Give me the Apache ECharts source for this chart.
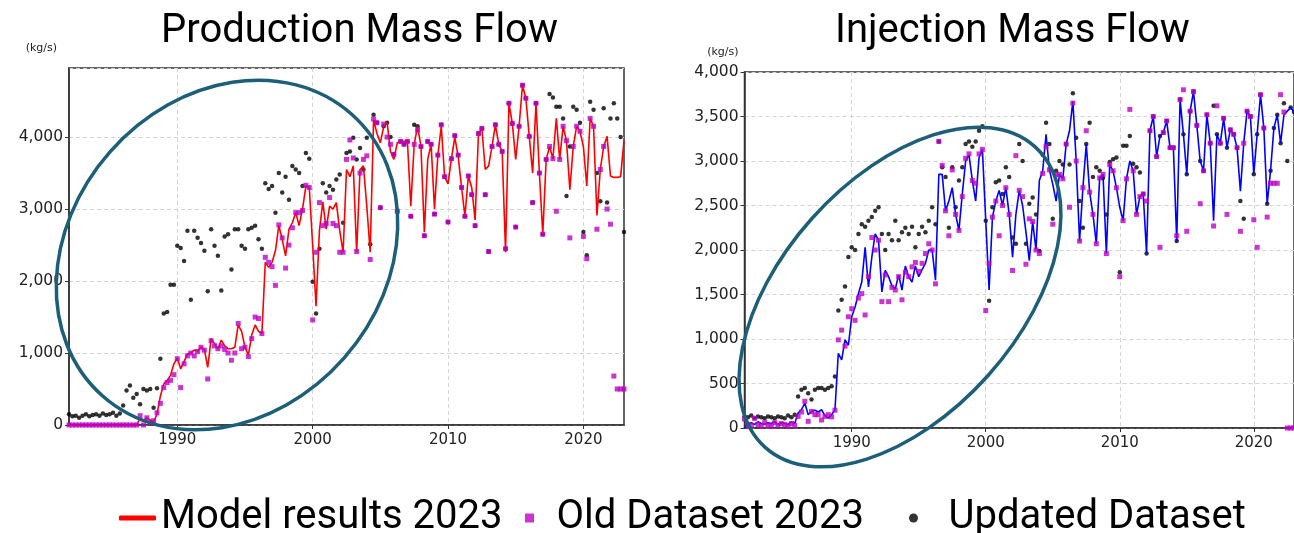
<!DOCTYPE html>
<html>
<head>
<meta charset="utf-8">
<script src="https://cdn.jsdelivr.net/npm/echarts@6/dist/echarts.min.js"></script>
<style>
  html, body { margin: 0; padding: 0; background: #ffffff; }
  #chart { width: 1294px; height: 533px; }
</style>
</head>
<body>
<div id="chart"></div>
<script>
// Quarterly samples, first value at 1982.0, one every quarter through 2023.0
const START_YEAR = 1982;
const STEP = 0.25;
const xTicks = [1990, 2000, 2010, 2020];

// Production mass flow (kg/s)
const prodModel = [
  0,0,0,0, 0,0,0,0, 0,0,0,0, 0,0,0,0, 0,0,0,0,          // 1982-1986
  0,100,60,100,        // 1987
  70,40,150,400,       // 1988
  570,620,690,850,     // 1989
  930,780,880,990,     // 1990
  1000,1040,1030,1080, // 1991
  1050,800,1200,1130,  // 1992
  1060,1180,1100,1060, // 1993
  1060,1080,1390,1300, // 1994
  1080,970,1250,1390,  // 1995
  1300,1270,2260,2190, // 1996
  2260,2420,2770,2580, // 1997
  2350,2720,2810,2950, // 1998
  2770,3000,3320,3300, // 1999
  2500,1650,2700,3100, // 2000
  2720,3040,3000,3090, // 2001
  2700,2400,3550,3450, // 2002
  3600,2400,3550,3600, // 2003
  3040,2400,4240,4050, // 2004
  3920,4150,4200,3800, // 2005
  3690,3920,3940,3940, // 2006
  3940,3040,3900,4150, // 2007
  3870,2680,3690,3900, // 2008
  3000,3750,4150,3450, // 2009
  3350,3700,4000,3730, // 2010
  3300,2900,3460,3300, // 2011
  2850,4050,4120,3550, // 2012
  3600,3870,4170,3900, // 2013
  3800,2400,4470,4190, // 2014
  3690,4150,4720,4540, // 2015
  4010,3500,4470,3500, // 2016
  2650,3690,3870,3700, // 2017
  4260,3690,4150,3950, // 2018
  3270,3870,4150,4080, // 2019
  3870,3320,4260,4150, // 2020
  2910,3550,3870,4010, // 2021
  3460,3440,3440,3450, // 2022
  3950                 // 2023
];
const prodOld = [
  0,0,0,0, 0,0,0,0, 0,0,0,0, 0,0,0,0, 0,0,0,0,          // 1982-1986
  0,130,0,100,         // 1987
  30,60,170,300,       // 1988
  520,590,620,700,     // 1989
  920,520,850,960,     // 1990
  1000,960,1020,1080,  // 1991
  1040,640,1170,1100,  // 1992
  1060,1100,1050,1000, // 1993
  900,1000,1410,1060,  // 1994
  1080,950,1200,1500,  // 1995
  1480,1270,2330,2260, // 1996
  2200,1940,2780,2600, // 1997
  2180,2500,2740,2950, // 1998
  2950,2980,3330,3300, // 1999
  1460,2400,3090,2770, // 2000
  2800,3160,2800,2770, // 2001
  2400,2400,3690,3960, // 2002
  3710,2410,3500,3690, // 2003
  3740,2300,4250,4200, // 2004
  3020,4180,4000,3900, // 2005
  3760,2970,3940,3900, // 2006
  3940,2900,3900,4100, // 2007
  3870,2630,3940,3900, // 2008
  2930,3750,4170,3450, // 2009
  2820,3700,4020,3750, // 2010
  3300,2900,3460,3200, // 2011
  2770,4050,4120,3200, // 2012
  2410,3870,4170,3900, // 2013
  3800,2450,4470,4190, // 2014
  2750,4150,4720,4540, // 2015
  4010,3090,4470,3500, // 2016
  2650,3690,3870,3700, // 2017
  2970,3690,4150,3950, // 2018
  2600,3870,4150,4080, // 2019
  2620,2310,4260,4150, // 2020
  2720,3550,3870,3000, // 2021
  2790,680,500,500,    // 2022
  500                  // 2023
];
const prodUpdated = [
  150,120,130,100,     // 1982
  130,150,120,140,     // 1983
  150,130,160,140,     // 1984
  150,170,130,160,     // 1985
  270,480,550,380,     // 1986
  430,290,500,480,     // 1987
  500,240,510,920,     // 1988
  1550,1570,1950,1950, // 1989
  2490,2460,2280,2700, // 1990
  1740,2700,2600,2530, // 1991
  2420,1860,2720,2490, // 1992
  2350,1870,2620,2650, // 1993
  2160,2720,2720,2490, // 1994
  2450,2720,2740,2770, // 1995
  2580,2450,3360,3280, // 1996
  3320,2950,3500,3230, // 1997
  3450,3130,3600,3550, // 1998
  3500,3320,3780,3700, // 1999
  1990,1550,2450,3360, // 2000
  3230,3320,3270,3410, // 2001
  3480,2810,3780,3800, // 2002
  3990,3690,3850,3550, // 2003
  3990,2510,4310,4200, // 2004
  3020,4150,4200,4000, // 2005
  3760,2970,3940,3900, // 2006
  3940,2900,4170,4150, // 2007
  3870,2630,3940,3900, // 2008
  2930,3750,4170,3450, // 2009
  2820,3700,4020,3750, // 2010
  3300,2900,3460,3200, // 2011
  2770,4050,4120,3200, // 2012
  2410,3870,4170,3900, // 2013
  3800,2450,4470,4190, // 2014
  2750,4150,4720,4540, // 2015
  4010,3090,4470,3500, // 2016
  2650,3690,4600,4550, // 2017
  4420,4420,4260,3180, // 2018
  3870,4420,4380,4200, // 2019
  2680,2360,4490,4380, // 2020
  3500,3110,4400,3090, // 2021
  4260,4470,4260,4000, // 2022
  2680                 // 2023
];

// Injection mass flow (kg/s)
const injModel = [
  0,50,60,40,          // 1982
  70,50,40,60,         // 1983
  50,70,40,60,         // 1984
  50,40,70,50,         // 1985
  170,205,280,150,     // 1986
  185,200,180,205,     // 1987
  140,110,150,205,     // 1988
  840,765,990,930,     // 1989
  1250,1360,1510,1640, // 1990
  2030,1585,1920,2180, // 1991
  2110,1530,1770,1700, // 1992
  1600,1560,1720,1550, // 1993
  1820,1700,1640,1820, // 1994
  1700,1780,1850,2000, // 1995
  2000,1660,2850,2850, // 1996
  2440,2550,2700,2400, // 1997
  2220,2630,3000,3070, // 1998
  2780,2550,3040,3130, // 1999
  2330,1550,2370,2550, // 2000
  2670,2500,2700,2400, // 2001
  1920,2400,2670,2500, // 2002
  2200,1880,2320,2000, // 2003
  2780,2890,3300,2900, // 2004
  2740,2550,2850,2800, // 2005
  3190,3340,3670,3000, // 2006
  2100,2700,3190,2650, // 2007
  2400,2070,2810,2850, // 2008
  1960,2960,2890,2700, // 2009
  2480,2330,2800,3000, // 2010
  2890,2400,2600,2630, // 2011
  1960,3340,3500,3050, // 2012
  3280,3320,3450,3150, // 2013
  3150,2100,3690,3300, // 2014
  2850,3560,3780,3400, // 2015
  3000,2890,3520,3200, // 2016
  2330,3300,3200,3480, // 2017
  3150,3350,3300,3150, // 2018
  2660,3200,3560,3500, // 2019
  2850,3300,3745,3370, // 2020
  2520,2890,3370,3520, // 2021
  3200,3520,3560,3600, // 2022
  3550                 // 2023
];
const injOld = [
  100,20,30,110,       // 1982
  40,20,60,30,         // 1983
  20,60,30,50,         // 1984
  40,20,50,30,         // 1985
  130,180,300,75,      // 1986
  185,150,150,90,      // 1987
  130,150,125,200,     // 1988
  990,1100,920,1250,   // 1989
  1340,1210,1460,1510, // 1990
  1270,1700,2140,2000, // 1991
  2110,1420,1720,1420, // 1992
  1580,1550,1700,1440, // 1993
  1750,1700,1810,1860, // 1994
  1760,1850,1960,2070, // 1995
  2000,1620,3220,2950, // 1996
  2440,2160,2900,2400, // 1997
  2220,2600,3030,3080, // 1998
  2780,2750,3080,3130, // 1999
  1320,1850,2370,2550, // 2000
  2160,2500,2700,2400, // 2001
  1770,3060,2670,2600, // 2002
  1840,2350,2320,2000, // 2003
  1960,2860,3160,2900, // 2004
  2290,2850,2850,2800, // 2005
  3190,2480,3650,3000, // 2006
  2100,2700,3340,2650, // 2007
  2400,2070,2810,2850, // 2008
  1960,2960,2890,2700, // 2009
  1700,2330,2800,3580, // 2010
  2890,2400,2600,2630, // 2011
  2550,3340,3500,3050, // 2012
  2030,3320,3450,3150, // 2013
  3150,2160,3690,3800, // 2014
  2210,3560,3780,3400, // 2015
  2520,2890,3520,3200, // 2016
  2270,3620,3200,3480, // 2017
  2400,3350,3300,3150, // 2018
  2210,3200,3560,3500, // 2019
  2340,2030,3745,3370, // 2020
  2370,2750,2750,2750, // 2021
  3745,3550,0,0,       // 2022
  0                    // 2023
];
const injUpdated = [
  130,120,140,110,     // 1982
  130,120,110,130,     // 1983
  120,110,130,120,     // 1984
  110,140,120,150,     // 1985
  355,430,450,390,     // 1986
  320,430,450,450,     // 1987
  430,450,470,580,     // 1988
  1320,1440,1590,1920, // 1989
  2030,2000,2180,2290, // 1990
  2260,2330,2370,2440, // 1991
  2480,2180,2000,2180, // 1992
  2110,2330,2110,2200, // 1993
  2250,2180,2260,2030, // 1994
  2180,2260,2200,2330, // 1995
  2480,2290,3220,2930, // 1996
  2820,2250,2930,2480, // 1997
  2780,2930,3190,3220, // 1998
  3160,3220,3340,3390, // 1999
  2330,1430,2480,2760, // 2000
  2780,2630,2930,2820, // 2001
  2140,2070,3190,3000, // 2002
  2070,2520,2590,2400, // 2003
  1990,3070,3430,3190, // 2004
  2350,2890,3000,2960, // 2005
  3190,2960,3760,3260, // 2006
  2550,2250,3190,3430, // 2007
  2820,2930,2890,2810, // 2008
  2400,2990,3020,3040, // 2009
  1750,3170,3170,3280, // 2010
  2970,2930,2870,2630, // 2011
  1960,3340,3500,3050, // 2012
  3280,3320,3450,3150, // 2013
  3150,2100,3690,3300, // 2014
  2850,3560,3780,3400, // 2015
  3000,2890,3520,3200, // 2016
  3620,3300,3200,3480, // 2017
  3150,3350,3300,3150, // 2018
  2550,2350,3560,3500, // 2019
  2850,3300,3745,3370, // 2020
  2520,2890,3370,3520, // 2021
  3200,3650,3000,3600, // 2022
  3550                 // 2023
];

const NAME_MODEL = 'Model results 2023';
const NAME_OLD = 'Old Dataset 2023';
const NAME_UPDATED = 'Updated Dataset';

// Pair each quarterly value with its decimal-year time
function withTime(values) {
  return values.map((v, i) => [START_YEAR + i * STEP, v]);
}

const AXIS_FONT = 'DejaVu Sans';
const gridLine = { show: true, lineStyle: { color: '#d4d4d4', width: 1, type: [4, 3] } };

function xAxisFor(gridIndex, max) {
  return {
    type: 'value', gridIndex: gridIndex, min: START_YEAR, max: max,
    axisLine: { show: true, lineStyle: { color: '#333', width: 1.5 } },
    axisTick: { show: true, customValues: xTicks, length: 4, lineStyle: { color: '#333' } },
    axisLabel: { customValues: xTicks, formatter: v => String(v),
      color: '#222', fontFamily: AXIS_FONT, fontSize: 15, margin: 8 },
    splitLine: gridLine
  };
}
function yAxisFor(gridIndex, max, interval, namePad) {
  return {
    type: 'value', gridIndex: gridIndex, min: 0, max: max, interval: interval,
    name: '(kg/s)', nameLocation: 'end', nameGap: 14,
    nameTextStyle: { color: '#222', fontFamily: AXIS_FONT, fontSize: 11, align: 'right', padding: [0, namePad, 0, 0] },
    axisLine: { show: true, lineStyle: { color: '#333', width: 1.5 } },
    axisTick: { show: true, length: 4, lineStyle: { color: '#333' } },
    axisLabel: { color: '#222', fontFamily: AXIS_FONT, fontSize: 15.5, margin: 6, showMaxLabel: max % interval === 0 },
    splitLine: gridLine
  };
}

function seriesFor(idx, model, old, updated, lineColor) {
  return [
    {
      name: NAME_UPDATED, type: 'scatter', xAxisIndex: idx, yAxisIndex: idx,
      data: withTime(updated), symbol: 'circle', symbolSize: 4.5,
      itemStyle: { color: '#000000' }, z: 2, clip: true
    },
    {
      name: NAME_MODEL, type: 'line', xAxisIndex: idx, yAxisIndex: idx,
      data: withTime(model), showSymbol: false, symbol: 'none',
      lineStyle: { color: lineColor, width: 1.6 }, itemStyle: { color: lineColor },
      z: 3, clip: true
    },
    {
      name: NAME_OLD, type: 'scatter', xAxisIndex: idx, yAxisIndex: idx,
      data: withTime(old), symbol: 'rect', symbolSize: 5,
      itemStyle: { color: '#c000c8' }, z: 4, clip: true
    }
  ];
}

const chart = echarts.init(document.getElementById('chart'), null, { renderer: 'canvas' });

const legendText = { color: '#000', fontFamily: 'Roboto', fontSize: 40 };
const titleText = { fontFamily: 'Roboto', fontWeight: 'normal', fontSize: 40, color: '#000' };

chart.setOption({
  backgroundColor: '#ffffff',
  animation: false,
  title: [
    { text: 'Production Mass Flow', left: 156, top: 7, textStyle: titleText },
    { text: 'Injection Mass Flow', left: 830, top: 7, textStyle: titleText }
  ],
  legend: [
    { data: [{ name: NAME_MODEL, icon: 'roundRect' }], left: 114, top: 493,
      itemWidth: 37, itemHeight: 5, itemGap: 0, textStyle: legendText, selectedMode: false },
    { data: [{ name: NAME_OLD, icon: 'path://M0,0h10v10h-10z' }], left: 520, top: 493,
      itemWidth: 44, itemHeight: 9, itemGap: 0, textStyle: legendText, selectedMode: false },
    { data: [{ name: NAME_UPDATED, icon: 'circle' }], left: 904, top: 493,
      itemWidth: 60, itemHeight: 9, itemGap: 0, textStyle: legendText, selectedMode: false }
  ],
  grid: [
    { left: 69, right: 670, top: 68, bottom: 108, show: true, borderColor: '#333', borderWidth: 1.5, backgroundColor: 'transparent' },
    { left: 744.5, right: -4, top: 72, bottom: 105, show: true, borderColor: '#333', borderWidth: 1.5, backgroundColor: 'transparent' }
  ],
  xAxis: [ xAxisFor(0, 2023), xAxisFor(1, 2023) ],
  yAxis: [ yAxisFor(0, 4960, 1000, 12), yAxisFor(1, 4000, 500, 6) ],
  series: [].concat(
    seriesFor(0, prodModel, prodOld, prodUpdated, '#ff0000'),
    seriesFor(1, injModel, injOld, injUpdated, '#0000ff')
  ),
  graphic: [
    // highlight rings around the early-period divergence
    { type: 'ellipse', x: 227, y: 255, rotation: 0.848, z: 100,
      shape: { cx: 0, cy: 0, rx: 188, ry: 156 },
      style: { fill: 'none', stroke: '#1d5f78', lineWidth: 3.5 } },
    { type: 'ellipse', x: 900, y: 297, rotation: 0.84, z: 100,
      shape: { cx: 0, cy: 0, rx: 202, ry: 118 },
      style: { fill: 'none', stroke: '#1d5f78', lineWidth: 3.5 } }
  ]
});
</script>
</body>
</html>
